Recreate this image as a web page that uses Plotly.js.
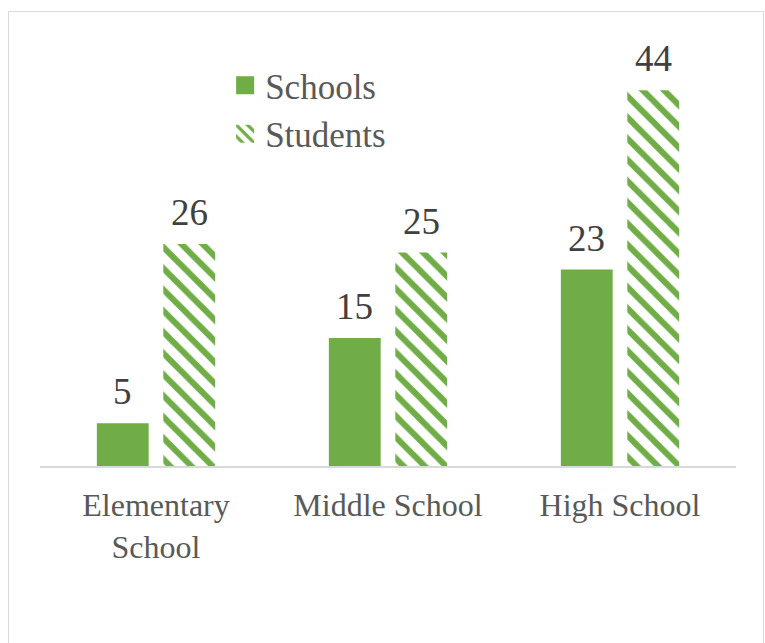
<!DOCTYPE html>
<html>
<head>
<meta charset="utf-8">
<script src="https://cdn.plot.ly/plotly-3.0.1.min.js"></script>
<style>
html,body{margin:0;padding:0;background:#fff;overflow:hidden;}
#wrap{position:relative;width:765px;height:643px;overflow:hidden;}
#chart{width:765px;height:643px;}
#frame{position:absolute;left:8px;top:11px;width:754px;height:700px;border:1px solid #d9d9d9;pointer-events:none;}
</style>
</head>
<body>
<div id="wrap">
<div id="chart"></div>
<div id="frame"></div>
</div>
<script>
const categories = ["Elementary<br>School", "Middle School", "High School"];
const schools = [5, 15, 23];
const students = [26, 25, 44];
const seriesNames = ["Schools", "Students"];

const green = "#70AD47";

const traces = [
  {
    type: "bar", name: seriesNames[0], x: categories, y: schools,
    marker: {color: green},
    legendgroup: "a"
  },
  {
    type: "bar", name: seriesNames[1], x: categories, y: students,
    marker: {color: "#ffffff",
      pattern: {shape: "\\", fgcolor: green, bgcolor: "#ffffff", size: 15, solidity: 0.4}},
    legendgroup: "b"
  }
];

const slotShift = 33.25;
const annotations = [];
[schools, students].forEach((vals, si) => {
  vals.forEach((v, i) => {
    annotations.push({
      x: categories[i], y: v, xref: "x", yref: "y",
      text: String(v), showarrow: false,
      xshift: si === 0 ? -slotShift : slotShift,
      yanchor: "bottom", yshift: 9,
      font: {family: "Times New Roman", size: 37, color: "#404040"}
    });
  });
});

const layout = {
  width: 765, height: 643,
  margin: {l: 40, r: 29, t: 39, b: 177},
  font: {family: "Times New Roman", color: "#595959"},
  barmode: "group", bargap: 0.427, bargroupgap: 0.22,
  showlegend: true,
  legend: {x: 0.266, y: 0.96, xanchor: "left", yanchor: "top",
    font: {family: "Times New Roman", size: 35, color: "#595959"},
    tracegroupgap: 13, traceorder: "normal"},
  xaxis: {type: "category", showline: true, linecolor: "#d9d9d9", linewidth: 1.5,
    ticks: "outside", ticklen: 10, tickcolor: "rgba(0,0,0,0)", showgrid: false, zeroline: false,
    tickfont: {family: "Times New Roman", size: 32, color: "#595959"}},
  yaxis: {range: [0, 50], visible: false, showgrid: false, zeroline: false},
  annotations: annotations
};

Plotly.newPlot("chart", traces, layout, {displayModeBar: false, staticPlot: true}).then(gd => {
  gd.querySelectorAll(".legend .legendpoints path").forEach(p => {
    p.setAttribute("d", "M9,9H-9V-9H9Z");
  });
});
</script>
</body>
</html>
